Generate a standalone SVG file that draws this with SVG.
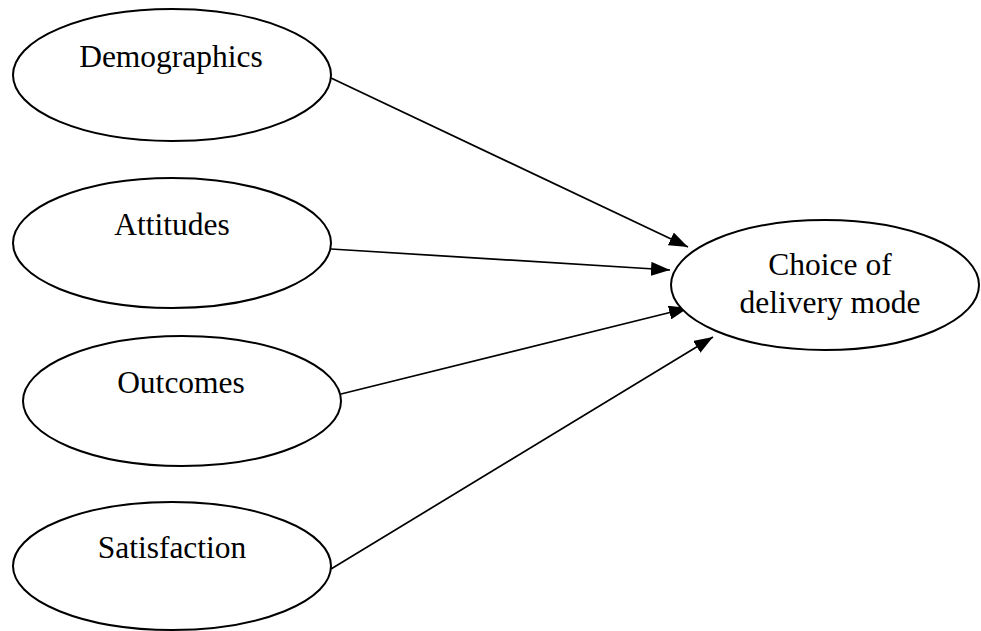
<svg xmlns="http://www.w3.org/2000/svg" width="981" height="631" viewBox="0 0 981 631">
  <style>
    .node ellipse { fill: #ffffff; stroke: #000000; stroke-width: 2; }
    .node text { font-family: "Liberation Serif", "Times New Roman", serif; font-size: 31.5px; fill: #000000; text-anchor: middle; }
    .edge { stroke: #000000; stroke-width: 1.7; fill: none; marker-end: url(#arrow); }
  </style>
  <defs>
    <marker id="arrow" markerUnits="userSpaceOnUse" markerWidth="20" markerHeight="14" refX="19" refY="7" orient="auto">
      <polygon points="0,0 19,7 0,14" fill="#000000"/>
    </marker>
  </defs>
  <rect width="981" height="631" fill="#ffffff"/>

  <g id="connectors">
    <line class="edge" x1="331" y1="78" x2="688" y2="247"/>
    <line class="edge" x1="331" y1="249" x2="670" y2="270"/>
    <line class="edge" x1="341" y1="394" x2="688" y2="308"/>
    <line class="edge" x1="331" y1="569" x2="713" y2="337"/>
  </g>

  <g id="demographics" class="node">
    <ellipse cx="172" cy="75" rx="159" ry="66"/>
    <text x="171" y="67">Demographics</text>
  </g>
  <g id="attitudes" class="node">
    <ellipse cx="172" cy="243" rx="159" ry="65"/>
    <text x="172" y="235">Attitudes</text>
  </g>
  <g id="outcomes" class="node">
    <ellipse cx="182" cy="401" rx="159" ry="65"/>
    <text x="181" y="393">Outcomes</text>
  </g>
  <g id="satisfaction" class="node">
    <ellipse cx="172" cy="566" rx="159" ry="64"/>
    <text x="172" y="558">Satisfaction</text>
  </g>
  <g id="choice" class="node">
    <ellipse cx="825" cy="285" rx="154" ry="65"/>
    <text x="830" y="275">Choice of</text>
    <text x="830" y="313">delivery mode</text>
  </g>
</svg>
